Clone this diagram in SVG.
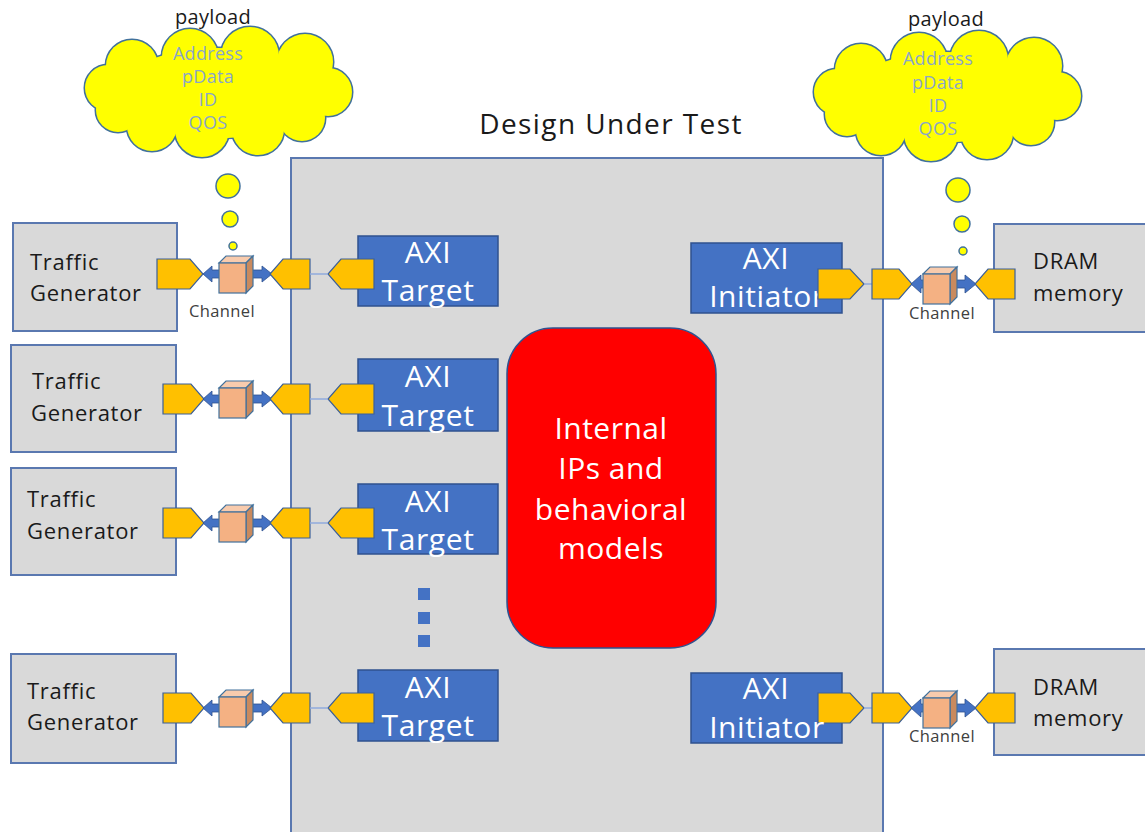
<svg xmlns="http://www.w3.org/2000/svg" width="1145" height="832" viewBox="0 0 1145 832">
<defs>
<style>
.t{font-family:"Open Sans","Liberation Sans",sans-serif}
.box{fill:#d9d9d9;stroke:#5a78b0;stroke-width:2}
.axi{fill:#4472c4;stroke:#2f528f;stroke-width:1.5}
.port{fill:#ffc000;stroke:#3b5f99;stroke-width:1.2}
.arr{fill:#4472c4;stroke:#2f528f;stroke-width:0.8}
.cf{fill:#f4b183;stroke:#41719c;stroke-width:1.2}
.ct{fill:#f8cbad;stroke:#41719c;stroke-width:1.2}
.cs{fill:#c98a5e;stroke:#41719c;stroke-width:1.2}
.link{stroke:#8faadc;stroke-width:1.5;fill:none}
.tg{font-size:22px;fill:#1a1a1a;letter-spacing:0.7px}
.wt{fill:#ffffff;text-anchor:middle}
.ax{font-size:30px;letter-spacing:0.6px}
.ch{font-size:16.5px;fill:#404040;text-anchor:middle;letter-spacing:0.4px}
.cl{font-size:18px;fill:#8aa6c8;text-anchor:middle;letter-spacing:0.3px}
.pl{font-size:20px;fill:#1a1a1a;text-anchor:middle;letter-spacing:0.3px}
.bub{fill:#ffff00;stroke:#41719c;stroke-width:1.5}
</style>
<g id="lobes">
<circle cx="108" cy="88" r="23"/><circle cx="118" cy="110" r="22"/><circle cx="152" cy="126" r="25"/>
<circle cx="202" cy="130" r="27"/><circle cx="258" cy="129" r="26"/><circle cx="302" cy="118" r="23"/>
<circle cx="328" cy="92" r="24"/><circle cx="305" cy="62" r="28"/><circle cx="250" cy="56" r="29"/>
<circle cx="190" cy="57" r="28"/><circle cx="132" cy="66" r="26"/><ellipse cx="218" cy="93" rx="100" ry="45"/>
</g>
<g id="cloud">
<use href="#lobes" fill="#ffff00" stroke="#41719c" stroke-width="3"/>
<use href="#lobes" fill="#ffff00" stroke="none"/>
</g>
<g id="cube">
<polygon class="ct" points="0,-11 7,-18 34,-18 27,-11"/>
<polygon class="cs" points="27,-11 34,-18 34,12 27,19"/>
<rect class="cf" x="0" y="-11" width="27" height="30"/>
</g>
</defs>
<rect width="1145" height="832" fill="#ffffff"/>

<g id="dut">
<rect class="box" x="291" y="158" width="592" height="700"/>
<text class="t" x="611" y="134" font-size="28" fill="#1a1a1a" text-anchor="middle" letter-spacing="1.4">Design Under Test</text>
</g>

<g id="cloud-left">
<use href="#cloud"/>
<text class="t pl" x="213" y="24">payload</text>
<text class="t cl" x="208" y="60">Address</text>
<text class="t cl" x="208" y="83">pData</text>
<text class="t cl" x="208" y="106">ID</text>
<text class="t cl" x="208" y="129">QOS</text>
<circle class="bub" cx="228" cy="186" r="12"/>
<circle class="bub" cx="230" cy="219" r="8"/>
<circle class="bub" cx="233" cy="246" r="4"/>
</g>

<g id="cloud-right">
<use href="#cloud" transform="translate(729,4)"/>
<text class="t pl" x="946" y="26">payload</text>
<text class="t cl" x="938" y="65">Address</text>
<text class="t cl" x="938" y="89">pData</text>
<text class="t cl" x="938" y="112">ID</text>
<text class="t cl" x="938" y="135">QOS</text>
<circle class="bub" cx="958" cy="190" r="12"/>
<circle class="bub" cx="962" cy="224" r="8"/>
<circle class="bub" cx="963" cy="251" r="4"/>
</g>

<g id="internal">
<rect x="507" y="328" width="209" height="320" rx="46" fill="#ff0000" stroke="#2f528f" stroke-width="1.5"/>
<text class="t wt" font-size="30" letter-spacing="0.5"><tspan x="611" y="439">Internal</tspan><tspan x="611" y="479">IPs and</tspan><tspan x="611" y="520">behavioral</tspan><tspan x="611" y="559">models</tspan></text>
</g>

<g id="ellipsis" fill="#4472c4">
<rect x="418" y="588" width="12" height="12"/>
<rect x="418" y="612" width="12" height="12"/>
<rect x="418" y="635" width="12" height="12"/>
</g>

<g id="tg1"><rect class="box" x="13" y="223" width="164" height="108"/>
<text class="t tg"><tspan x="30" y="270">Traffic</tspan><tspan x="30" y="301">Generator</tspan></text></g>
<g id="tg2"><rect class="box" x="11" y="345" width="165" height="107"/>
<text class="t tg"><tspan x="32" y="389">Traffic</tspan><tspan x="31" y="421">Generator</tspan></text></g>
<g id="tg3"><rect class="box" x="11" y="468" width="165" height="107"/>
<text class="t tg"><tspan x="27" y="507">Traffic</tspan><tspan x="27" y="539">Generator</tspan></text></g>
<g id="tg4"><rect class="box" x="11" y="654" width="165" height="109"/>
<text class="t tg"><tspan x="27" y="699">Traffic</tspan><tspan x="27" y="730">Generator</tspan></text></g>

<g id="axi-t1" transform="translate(0,274)"><rect class="axi" x="358" y="-38" width="140" height="70"/>
<text class="t wt ax"><tspan x="428" y="-11">AXI</tspan><tspan x="428" y="27">Target</tspan></text>
<polygon class="port" points="374,-15 341,-15 328,0 341,15 374,15"/></g>
<g id="axi-t2" transform="translate(0,399)"><rect class="axi" x="358" y="-40" width="140" height="72"/>
<text class="t wt ax"><tspan x="428" y="-12">AXI</tspan><tspan x="428" y="27">Target</tspan></text>
<polygon class="port" points="374,-15 341,-15 328,0 341,15 374,15"/></g>
<g id="axi-t3" transform="translate(0,523)"><rect class="axi" x="358" y="-39" width="140" height="70"/>
<text class="t wt ax"><tspan x="428" y="-11">AXI</tspan><tspan x="428" y="27">Target</tspan></text>
<polygon class="port" points="374,-15 341,-15 328,0 341,15 374,15"/></g>
<g id="axi-t4" transform="translate(0,708)"><rect class="axi" x="358" y="-38" width="140" height="71"/>
<text class="t wt ax"><tspan x="428" y="-10">AXI</tspan><tspan x="428" y="28">Target</tspan></text>
<polygon class="port" points="374,-15 341,-15 328,0 341,15 374,15"/></g>

<g id="axi-i1" transform="translate(0,284)"><rect class="axi" x="691" y="-41" width="151" height="70"/>
<text class="t wt ax"><tspan x="766" y="-15">AXI</tspan><tspan x="767" y="23">Initiator</tspan></text>
<polygon class="port" points="818,-15 850,-15 864,0 850,15 818,15"/></g>
<g id="axi-i2" transform="translate(0,708)"><rect class="axi" x="691" y="-35" width="151" height="70"/>
<polygon class="port" points="818,-15 850,-15 864,0 850,15 818,15"/>
<text class="t wt ax"><tspan x="766" y="-9">AXI</tspan><tspan x="767" y="30">Initiator</tspan></text></g>

<g id="dram1"><rect class="box" x="994" y="224" width="160" height="108"/>
<text class="t tg"><tspan x="1033" y="269">DRAM</tspan><tspan x="1033" y="301">memory</tspan></text></g>
<g id="dram2"><rect class="box" x="994" y="649" width="160" height="106"/>
<text class="t tg"><tspan x="1033" y="695">DRAM</tspan><tspan x="1033" y="726">memory</tspan></text></g>

<g id="connectors">
<g id="ch-l1" transform="translate(0,274)">
<polygon class="port" points="157,-15 190,-15 203,0 190,15 157,15"/>
<polygon class="arr" points="203,0 212,-8 212,-4 220,-4 220,4 212,4 212,8"/>
<polygon class="arr" points="252,-4 262,-4 262,-8 272,0 262,8 262,4 252,4"/>
<use href="#cube" x="219"/>
<polygon class="port" points="310,-15 283,-15 270,0 283,15 310,15"/>
<line class="link" x1="310" y1="0" x2="328" y2="0"/>
<text class="t ch" x="222" y="43">Channel</text>
</g>
<g id="ch-l2" transform="translate(0,399)">
<polygon class="port" points="163,-15 191,-15 204,0 191,15 163,15"/>
<polygon class="arr" points="203,0 212,-8 212,-4 220,-4 220,4 212,4 212,8"/>
<polygon class="arr" points="252,-4 262,-4 262,-8 272,0 262,8 262,4 252,4"/>
<use href="#cube" x="219"/>
<polygon class="port" points="310,-15 283,-15 270,0 283,15 310,15"/>
<line class="link" x1="310" y1="0" x2="328" y2="0"/>
</g>
<g id="ch-l3" transform="translate(0,523)">
<polygon class="port" points="163,-15 191,-15 204,0 191,15 163,15"/>
<polygon class="arr" points="203,0 212,-8 212,-4 220,-4 220,4 212,4 212,8"/>
<polygon class="arr" points="252,-4 262,-4 262,-8 272,0 262,8 262,4 252,4"/>
<use href="#cube" x="219"/>
<polygon class="port" points="310,-15 283,-15 270,0 283,15 310,15"/>
<line class="link" x1="310" y1="0" x2="328" y2="0"/>
</g>
<g id="ch-l4" transform="translate(0,708)">
<polygon class="port" points="163,-15 191,-15 204,0 191,15 163,15"/>
<polygon class="arr" points="203,0 212,-8 212,-4 220,-4 220,4 212,4 212,8"/>
<polygon class="arr" points="252,-4 262,-4 262,-8 272,0 262,8 262,4 252,4"/>
<use href="#cube" x="219"/>
<polygon class="port" points="310,-15 283,-15 270,0 283,15 310,15"/>
<line class="link" x1="310" y1="0" x2="328" y2="0"/>
</g>
<g id="ch-r1" transform="translate(0,284)">
<line class="link" x1="864" y1="0" x2="872" y2="0"/>
<polygon class="port" points="872,-15 899,-15 912,0 899,15 872,15"/>
<polygon class="arr" points="911,0 921,-9 921,-4 925,-4 925,4 921,4 921,9"/>
<polygon class="arr" points="956,-4 965,-4 965,-9 976,0 965,9 965,4 956,4"/>
<use href="#cube" x="923" y="1"/>
<polygon class="port" points="1015,-15 988,-15 975,0 988,15 1015,15"/>
<text class="t ch" x="942" y="35">Channel</text>
</g>
<g id="ch-r2" transform="translate(0,708)">
<line class="link" x1="864" y1="0" x2="872" y2="0"/>
<polygon class="port" points="872,-15 899,-15 912,0 899,15 872,15"/>
<polygon class="arr" points="911,0 921,-9 921,-4 925,-4 925,4 921,4 921,9"/>
<polygon class="arr" points="956,-4 965,-4 965,-9 976,0 965,9 965,4 956,4"/>
<use href="#cube" x="923" y="1"/>
<polygon class="port" points="1015,-15 988,-15 975,0 988,15 1015,15"/>
<text class="t ch" x="942" y="34">Channel</text>
</g>
</g>
</svg>
